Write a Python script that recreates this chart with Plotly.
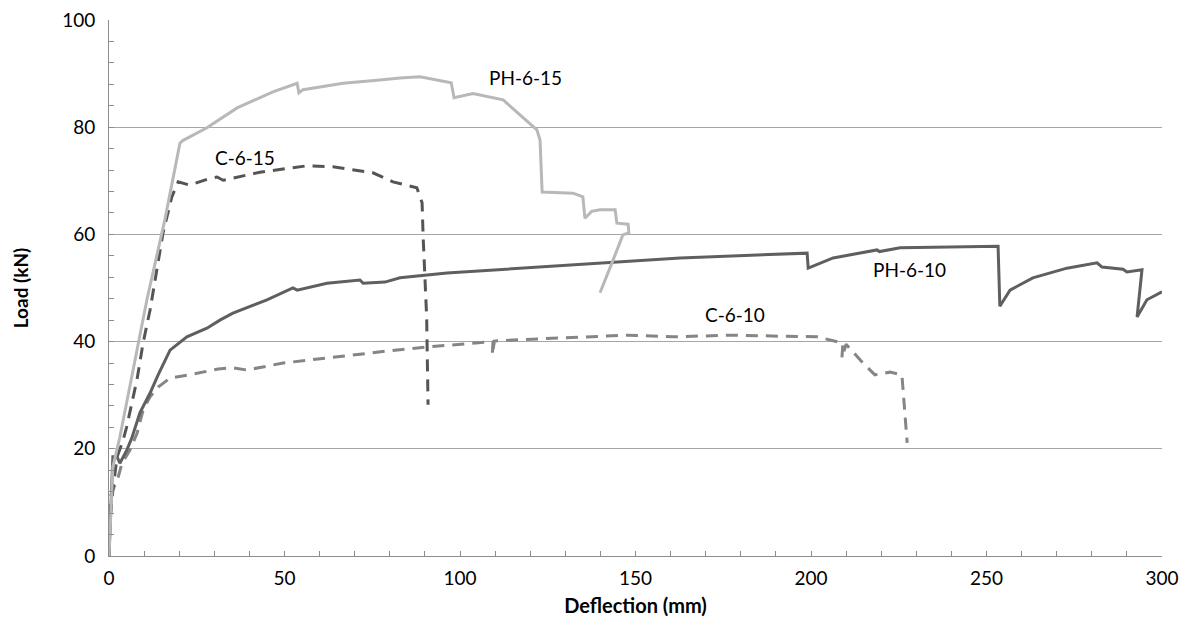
import plotly.graph_objects as go

# PH-6-15 (light grey solid)
ph615_x = [0, 1.1, 3.1, 10.8, 16, 20.2, 21, 23, 27.9, 36.5, 46.7, 53.6, 54.1, 55.3, 66.7, 77.2, 82.9,
           88.6, 97.5, 98.3, 103.7, 112.3, 118, 121.9, 122.8, 123.4, 132.2, 135, 135.6, 137.5, 139.9,
           144.2, 144.7, 147.9, 148.1, 146.4, 143.6, 139.9]
ph615_y = [0, 16.6, 22.2, 47.8, 63, 77, 77.5, 78.2, 79.9, 83.6, 86.6, 88.2, 86.4, 87, 88.2, 88.8, 89.2,
           89.4, 88.3, 85.5, 86.3, 85.1, 81.7, 79.5, 77.6, 67.9, 67.7, 67, 63, 64.3, 64.6,
           64.6, 62.1, 61.9, 60.3, 59.9, 55.2, 49.1]

# C-6-15 (dark grey dashed)
c615_x = [0, 0.3, 1.1, 2.3, 4, 5, 8, 9.7, 11.7, 15.4, 17.9, 19.7, 23, 28, 30.8, 32.5, 43, 56.4, 63.8,
          75.2, 80.9, 87.7, 89.2, 89.5, 90.5, 90.9]
c615_y = [0, 6.7, 12.3, 18.5, 21.6, 24, 33, 39.7, 45.9, 60.3, 67, 69.8, 69.2, 70.3, 70.7, 70.1, 71.6,
          72.8, 72.6, 71.5, 69.8, 68.7, 65.9, 59.5, 44.6, 28.2]

# PH-6-10 (dark grey solid)
ph610_x = [0, 0.5, 1.1, 2.3, 3.1, 5.1, 6.6, 8.8, 11.7, 14, 17.4, 22.2, 27.9, 31.6, 35.3, 45, 52.4, 53.6,
           62.1, 71.5, 72.4, 78.6, 82.9, 96.3, 139.9, 162.7, 198.9, 199.2, 206.3, 218.8, 219.5, 225.4,
           253.3, 253.8, 256.7, 263.2, 272.9, 281.5, 282.9, 288.9, 290, 294.3, 292.9, 295.7, 300]
ph610_y = [0, 10, 18.5, 18.5, 17.3, 19.8, 22.2, 26.7, 30.4, 33.8, 38.4, 40.9, 42.5, 44, 45.3, 47.8, 50,
           49.6, 50.9, 51.5, 50.9, 51.1, 51.9, 52.8, 54.7, 55.6, 56.5, 53.7, 55.6, 57.1, 56.8, 57.5,
           57.8, 46.6, 49.6, 51.9, 53.7, 54.7, 53.9, 53.5, 53, 53.4, 44.6, 47.8, 49.3]

# C-6-10 (medium grey dashed)
c610_x = [0, 0.3, 2.6, 3.7, 6, 8, 9.7, 11.7, 14, 17.4, 23, 31.1, 35.3, 39.3, 49.6, 63.8, 80.1, 90.6,
          109.4, 109.2, 109.8, 115.1, 139.9, 147.6, 160.7, 177.8, 192, 201.7, 209.1, 208.8, 210, 214.8,
          218.2, 222.5, 225.9, 226.2, 227.4]
c610_y = [0, 11, 14.7, 17.3, 19.8, 22.9, 27.2, 29.7, 31.5, 33.2, 33.8, 34.9, 35.1, 34.7, 36, 37.1, 38.3,
          39, 40, 37.5, 40.1, 40.3, 40.9, 41.2, 40.9, 41.2, 41, 40.9, 39.7, 36.9, 39.5, 36, 33.8, 34.3,
          33.8, 31, 21.1]

labels = ["PH-6-15", "C-6-15", "PH-6-10", "C-6-10"]
label_x = [118.8, 38.7, 228, 178.3]
label_y = [89.2, 74.4, 53.4, 45]

FONT = "Lato, 'Open Sans', sans-serif"

fig = go.Figure()
fig.add_trace(go.Scatter(x=c610_x, y=c610_y, mode="lines", name="C-6-10",
                         line=dict(color="#858585", width=3, dash="12px,8px")))
fig.add_trace(go.Scatter(x=ph610_x, y=ph610_y, mode="lines", name="PH-6-10",
                         line=dict(color="#5f5f5f", width=3)))
fig.add_trace(go.Scatter(x=c615_x, y=c615_y, mode="lines", name="C-6-15",
                         line=dict(color="#555555", width=3, dash="12px,8px")))
fig.add_trace(go.Scatter(x=ph615_x, y=ph615_y, mode="lines", name="PH-6-15",
                         line=dict(color="#b8b8b8", width=3)))

for t, lx, ly in zip(labels, label_x, label_y):
    fig.add_annotation(x=lx, y=ly, text=t, showarrow=False,
                       font=dict(family=FONT, size=19, color="#000000"))

fig.update_layout(
    width=1193, height=644,
    margin=dict(l=101, r=39, t=12, b=96),
    paper_bgcolor="white", plot_bgcolor="white",
    showlegend=False,
    font=dict(family=FONT, size=19, color="#000000"),
)
fig.update_xaxes(
    range=[0, 300], dtick=50, tick0=0, automargin=False,
    showgrid=False, zeroline=False,
    showline=True, linecolor="#8c8c8c", linewidth=1,
    ticks="inside", ticklen=5, tickcolor="#8c8c8c",
    minor=dict(dtick=10, ticks="inside", ticklen=5, tickcolor="#8c8c8c", showgrid=False),
    title=dict(text="<b>Deflection (mm)</b>", font=dict(family=FONT, size=20), standoff=11),
    tickfont=dict(family=FONT, size=19),
    ticklabelstandoff=5, ticklabeloverflow="allow",
)
fig.update_yaxes(
    range=[0, 100], dtick=20, tick0=0, automargin=False,
    showgrid=True, gridcolor="#a6a6a6", gridwidth=1, zeroline=False,
    showline=True, linecolor="#8c8c8c", linewidth=1,
    ticks="inside", ticklen=5, tickcolor="#8c8c8c",
    minor=dict(dtick=4, ticks="inside", ticklen=5, tickcolor="#8c8c8c", showgrid=False),
    title=dict(text="<b>Load (kN)</b>", font=dict(family=FONT, size=19), standoff=28),
    tickfont=dict(family=FONT, size=19),
    ticklabelstandoff=9, ticklabeloverflow="allow",
)

fig.write_html("out.html")
